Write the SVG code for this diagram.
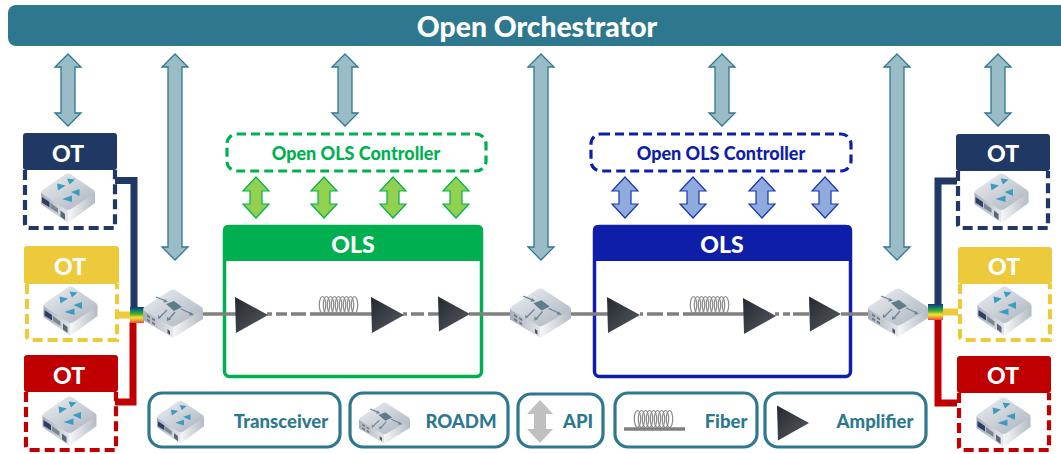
<svg xmlns="http://www.w3.org/2000/svg" width="1061" height="454" viewBox="0 0 1061 454">
<style>
text{font-family:"Lato","Open Sans","Liberation Sans",sans-serif;font-weight:900;text-anchor:middle;dominant-baseline:central}
.w{fill:#fff}
.t{fill:#2e788f;font-size:18.500px}
.big{fill:#9abcc6;stroke:#2e788f;stroke-width:1.3}
.ga{fill:#92d050;stroke:#00b050;stroke-width:1.2}
.ba{fill:#8faadc;stroke:#1a35b0;stroke-width:1.2}
.dash{fill:none;stroke-width:4.200;stroke-dasharray:10 5}
.leg{fill:#fff;stroke:#2e788f;stroke-width:3.200}
.f{stroke:#808080;stroke-width:3.400;fill:none}
.c{fill:none;stroke-width:7}
</style>
<defs>
<linearGradient id="gTop" x1="0" y1="0" x2="1" y2="1"><stop offset="0" stop-color="#eef0f3"/><stop offset="1" stop-color="#a9b2bd"/></linearGradient>
<linearGradient id="gL" x1="0" y1="0" x2="1" y2="0"><stop offset="0" stop-color="#a6aeb9"/><stop offset="1" stop-color="#e4e7ea"/></linearGradient>
<linearGradient id="gR" x1="0" y1="0" x2="1" y2="0"><stop offset="0" stop-color="#f6f7f8"/><stop offset="1" stop-color="#b4bbc4"/></linearGradient>
<linearGradient id="gAmp" x1="0" y1="0" x2="1" y2="1"><stop offset="0" stop-color="#24282e"/><stop offset="1" stop-color="#565c64"/></linearGradient>
<linearGradient id="gRain" x1="0" y1="0" x2="0" y2="1"><stop offset="0" stop-color="#1f2f80"/><stop offset=".25" stop-color="#0a8a60"/><stop offset=".45" stop-color="#50b030"/><stop offset=".65" stop-color="#f0e030"/><stop offset=".8" stop-color="#f5b030"/><stop offset="1" stop-color="#e04a40"/></linearGradient>
<symbol id="trx" viewBox="0 0 54 50" overflow="visible">
<path d="M0 19V31L27 50V37Z" fill="url(#gL)"/>
<path d="M54 19V30L27 50V37Z" fill="url(#gR)"/>
<path d="M24 1.500Q27 -.5 30 1.500L52.500 17Q55 19 52.500 21L30 36Q27 38 24 36L1.500 21Q-1 19 1.500 17Z" fill="url(#gTop)"/>
<g fill="#3a9cc0"><path d="M16 10.500L24.500 12.500L17 17.500Z"/><path d="M26 5.500L34 6.500L28.500 11.500Z"/><path d="M21 26L31 22.500V29Z"/><path d="M30 19L38.500 16V23Z"/></g>
<path d="M1 24L8.500 29V34.500L1 29.500Z" fill="#2b3f66"/><path d="M9.500 30L17 35.500V40L9.500 35Z" fill="#7b8594"/><path d="M19.500 37.500L24 41V47L19.500 43.500Z" fill="#5a6576"/>
</symbol>
<symbol id="rdm" viewBox="0 0 60 49" overflow="visible">
<path d="M0 20V31L30 49V37Z" fill="url(#gL)"/>
<path d="M60 20V30L30 49V37Z" fill="url(#gR)"/>
<path d="M27 1.500Q30 -.5 33 1.500L58.500 18Q61 20 58.500 22L33 36.500Q30 38.500 27 36.500L1.500 22Q-1 20 1.500 18Z" fill="url(#gTop)"/>
<path d="M23 15L31 12L39 18L31 22Z" fill="#5f7c8d"/>
<g stroke="#6b8696" stroke-width="1.300" fill="none"><path d="M13 8L23 12"/><path d="M38 20L49 25"/><path d="M24 21L17 28"/><path d="M32 23L26 30"/></g>
<g fill="#6b8696"><path d="M22 10L25 13L20 13.500Z"/><path d="M47.500 23L51 26L46 26.500Z"/><path d="M15 26L15 30L18 29Z"/><path d="M24 28L24 32L28 30.500Z"/></g>
<path d="M4 25.500L7 27.500V29.500L4 27.500ZM4 29.500L7 31.500V33.500L4 31.500ZM9 28.500L12 30.500V32.500L9 30.500ZM9 32.500L12 34.500V36.500L9 34.500Z" fill="#6a7484"/><path d="M24.500 40L27 42V46L24.500 44Z" fill="#4a5564"/>
</symbol>
<symbol id="amp" viewBox="0 0 34 36" overflow="visible"><path d="M0 0L33 18L1 36Z" fill="url(#gAmp)"/></symbol>
<symbol id="coil" viewBox="0 0 40 18" overflow="visible"><g fill="none" stroke="#8a8a8a" stroke-width="1.200"><ellipse cx="3.500" cy="9" rx="3.200" ry="8.500"/><ellipse cx="7.500" cy="9" rx="3.200" ry="8.500"/><ellipse cx="11.500" cy="9" rx="3.200" ry="8.500"/><ellipse cx="15.500" cy="9" rx="3.200" ry="8.500"/><ellipse cx="19.500" cy="9" rx="3.200" ry="8.500"/><ellipse cx="23.500" cy="9" rx="3.200" ry="8.500"/><ellipse cx="27.500" cy="9" rx="3.200" ry="8.500"/><ellipse cx="31.500" cy="9" rx="3.200" ry="8.500"/><ellipse cx="35.500" cy="9" rx="3.200" ry="8.500"/></g></symbol>
</defs>

<g id="orchestrator"><rect x="8" y="5" width="1060" height="41" rx="8" fill="#2e788f"/><text x="537" y="26" class="w" font-size="28.300">Open Orchestrator</text></g>

<g id="connectors">
<g class="apis">
<polygon class="big" points="68,54 81,67 75,67 75,113 81,113 68,126 55,113 61,113 61,67 55,67"/>
<polygon class="big" points="175,54 188,67 182,67 182,247 188,247 175,260 162,247 168,247 168,67 162,67"/>
<polygon class="big" points="345,54 358,67 352,67 352,113 358,113 345,126 332,113 338,113 338,67 332,67"/>
<polygon class="big" points="541,54 554,67 548,67 548,247 554,247 541,260 528,247 534,247 534,67 528,67"/>
<polygon class="big" points="722,54 735,67 729,67 729,113 735,113 722,126 709,113 715,113 715,67 709,67"/>
<polygon class="big" points="897,54 910,67 904,67 904,247 910,247 897,260 884,247 890,247 890,67 884,67"/>
<polygon class="big" points="998,54 1011,67 1005,67 1005,113 1011,113 998,126 985,113 991,113 991,67 985,67"/>
<polygon class="ga" points="256,177 269,191 262,191 262,204 269,204 256,218 243,204 250,204 250,191 243,191"/>
<polygon class="ga" points="324,177 337,191 330,191 330,204 337,204 324,218 311,204 318,204 318,191 311,191"/>
<polygon class="ga" points="393,177 406,191 399,191 399,204 406,204 393,218 380,204 387,204 387,191 380,191"/>
<polygon class="ga" points="456,177 469,191 462,191 462,204 469,204 456,218 443,204 450,204 450,191 443,191"/>
<polygon class="ba" points="625,177 638,191 631,191 631,204 638,204 625,218 612,204 619,204 619,191 612,191"/>
<polygon class="ba" points="693,177 706,191 699,191 699,204 706,204 693,218 680,204 687,204 687,191 680,191"/>
<polygon class="ba" points="762,177 775,191 768,191 768,204 775,204 762,218 749,204 756,204 756,191 749,191"/>
<polygon class="ba" points="825,177 838,191 831,191 831,204 838,204 825,218 812,204 819,204 819,191 812,191"/>
</g>
<g class="ot-links">
<path class="c" stroke="#1f3864" d="M115 180.500H134V307"/>
<path class="c" stroke="#edc93c" d="M115 315H131"/>
<path class="c" stroke="#c00000" d="M115 402H133V322"/>
<rect x="130" y="307" width="14" height="16" fill="url(#gRain)"/>
<path class="c" stroke="#1f3864" d="M957 181H938V304"/>
<path class="c" stroke="#edc93c" d="M941 312H958"/>
<path class="c" stroke="#c00000" d="M957 403H938V320"/>
<rect x="928" y="304" width="15" height="16" fill="url(#gRain)"/>
</g>
</g>

<g id="ot-l1"><rect x="23" y="133" width="94" height="37" rx="3" fill="#1f3864"/><path class="dash" stroke="#1f3864" d="M25 170V224Q25 228 29 228H115V170"/><text x="68" y="152.500" class="w" font-size="23">OT</text><use href="#trx" x="41" y="173" width="54" height="50"/></g>
<g id="ot-l2"><rect x="24" y="246" width="95" height="38" rx="3" fill="#edc93c"/><path class="dash" stroke="#edc93c" d="M27 284V336Q27 340 31 340H117V284"/><text x="70" y="265.500" class="w" font-size="23">OT</text><use href="#trx" x="43" y="286" width="55" height="50"/></g>
<g id="ot-l3"><rect x="24" y="355" width="94" height="37" rx="3" fill="#c00000"/><path class="dash" stroke="#c00000" d="M26 392V446Q26 450 30 450H116V392"/><text x="69" y="374.500" class="w" font-size="23">OT</text><use href="#trx" x="42" y="396" width="55" height="50"/></g>
<g id="ot-r1"><rect x="956" y="134" width="94" height="37" rx="3" fill="#1f3864"/><path class="dash" stroke="#1f3864" d="M958 171V224Q958 228 962 228H1048V171"/><text x="1003" y="152.500" class="w" font-size="23">OT</text><use href="#trx" x="974" y="173" width="55" height="50"/></g>
<g id="ot-r2"><rect x="958" y="247" width="94" height="37" rx="3" fill="#edc93c"/><path class="dash" stroke="#edc93c" d="M960 284V336Q960 340 964 340H1050V284"/><text x="1004" y="265.500" class="w" font-size="23">OT</text><use href="#trx" x="977" y="286" width="55" height="50"/></g>
<g id="ot-r3"><rect x="957" y="356" width="94" height="37" rx="3" fill="#c00000"/><path class="dash" stroke="#c00000" d="M959 393V446Q959 450 963 450H1049V393"/><text x="1003" y="374.500" class="w" font-size="23">OT</text><use href="#trx" x="976" y="397" width="55" height="50"/></g>

<g id="controller-green"><rect x="227" y="134" width="259" height="37" rx="10" class="dash" stroke="#00b050" style="stroke-width:3.200;stroke-dasharray:9 5"/><text x="356" y="152.500" font-size="18" fill="#00b050">Open OLS Controller</text></g>
<g id="controller-blue"><rect x="591" y="134" width="260" height="37" rx="10" class="dash" stroke="#0f1ea8" style="stroke-width:3.200;stroke-dasharray:9 5"/><text x="721" y="152.500" font-size="18" fill="#0f1ea8">Open OLS Controller</text></g>

<g id="ols-green"><rect x="224.500" y="226.500" width="257" height="150" rx="5" fill="#fff" stroke="#00b050" stroke-width="3.500"/><path d="M223 261V230Q223 225 228 225H478Q483 225 483 230V261Z" fill="#00b050"/><text x="353" y="243.500" class="w" font-size="23">OLS</text></g>
<g id="ols-blue"><rect x="594.500" y="226.500" width="256" height="150" rx="5" fill="#fff" stroke="#0f1ea8" stroke-width="3.500"/><path d="M593 261V230Q593 225 598 225H847Q852 225 852 230V261Z" fill="#0f1ea8"/><text x="722" y="243.500" class="w" font-size="23">OLS</text></g>

<g id="fiber-line">
<path class="f" d="M203 314H236M267 314H272M276 314H287M291 314H306M310 314H372M403 314H407M411 314H424M428 314H439M469 314H510M571 314H608M640 314H643M647 314H663M667 314H679M683 314H744M775 314H779M783 314H790M793 314H809M841 314H868"/>
</g>
<g id="ols-green-parts">
<use href="#amp" x="235" y="297" width="34" height="36"/><use href="#coil" x="319" y="296" width="40" height="18"/><use href="#amp" x="371" y="297" width="34" height="36"/><use href="#amp" x="438" y="296" width="33" height="36"/>
</g>
<g id="ols-blue-parts">
<use href="#amp" x="607" y="297" width="34" height="36"/><use href="#coil" x="690" y="296" width="40" height="18"/><use href="#amp" x="743" y="298" width="34" height="36"/><use href="#amp" x="809" y="296" width="33" height="36"/>
</g>

<g id="roadm-1"><use href="#rdm" x="143" y="289" width="60" height="49"/></g>
<g id="roadm-2"><use href="#rdm" x="510" y="288" width="61" height="50"/></g>
<g id="roadm-3"><use href="#rdm" x="868" y="288" width="60" height="49"/></g>

<g id="legend-transceiver"><rect x="149" y="393" width="191" height="54" rx="13" class="leg"/><use href="#trx" x="157" y="400" width="47" height="44"/><text x="281" y="421" class="t">Transceiver</text></g>
<g id="legend-roadm"><rect x="350" y="393" width="158" height="54" rx="13" class="leg"/><use href="#rdm" x="359" y="402" width="51" height="42"/><text x="461" y="421" class="t">ROADM</text></g>
<g id="legend-api"><rect x="518" y="394" width="85" height="53" rx="13" class="leg"/><polygon points="540,400 553,414 546,414 546,429 553,429 540,443 527,429 534,429 534,414 527,414" fill="#c0c0c0"/><text x="578" y="421" class="t">API</text></g>
<g id="legend-fiber"><rect x="615" y="393" width="142" height="54" rx="13" class="leg"/><use href="#coil" x="633" y="410" width="42" height="18"/><path class="f" d="M624 429H685"/><text x="726" y="421" class="t">Fiber</text></g>
<g id="legend-amplifier"><rect x="765" y="393" width="161" height="54" rx="13" class="leg"/><use href="#amp" x="777" y="405" width="33" height="36"/><text x="875" y="421" class="t">Amplifier</text></g>
</svg>
